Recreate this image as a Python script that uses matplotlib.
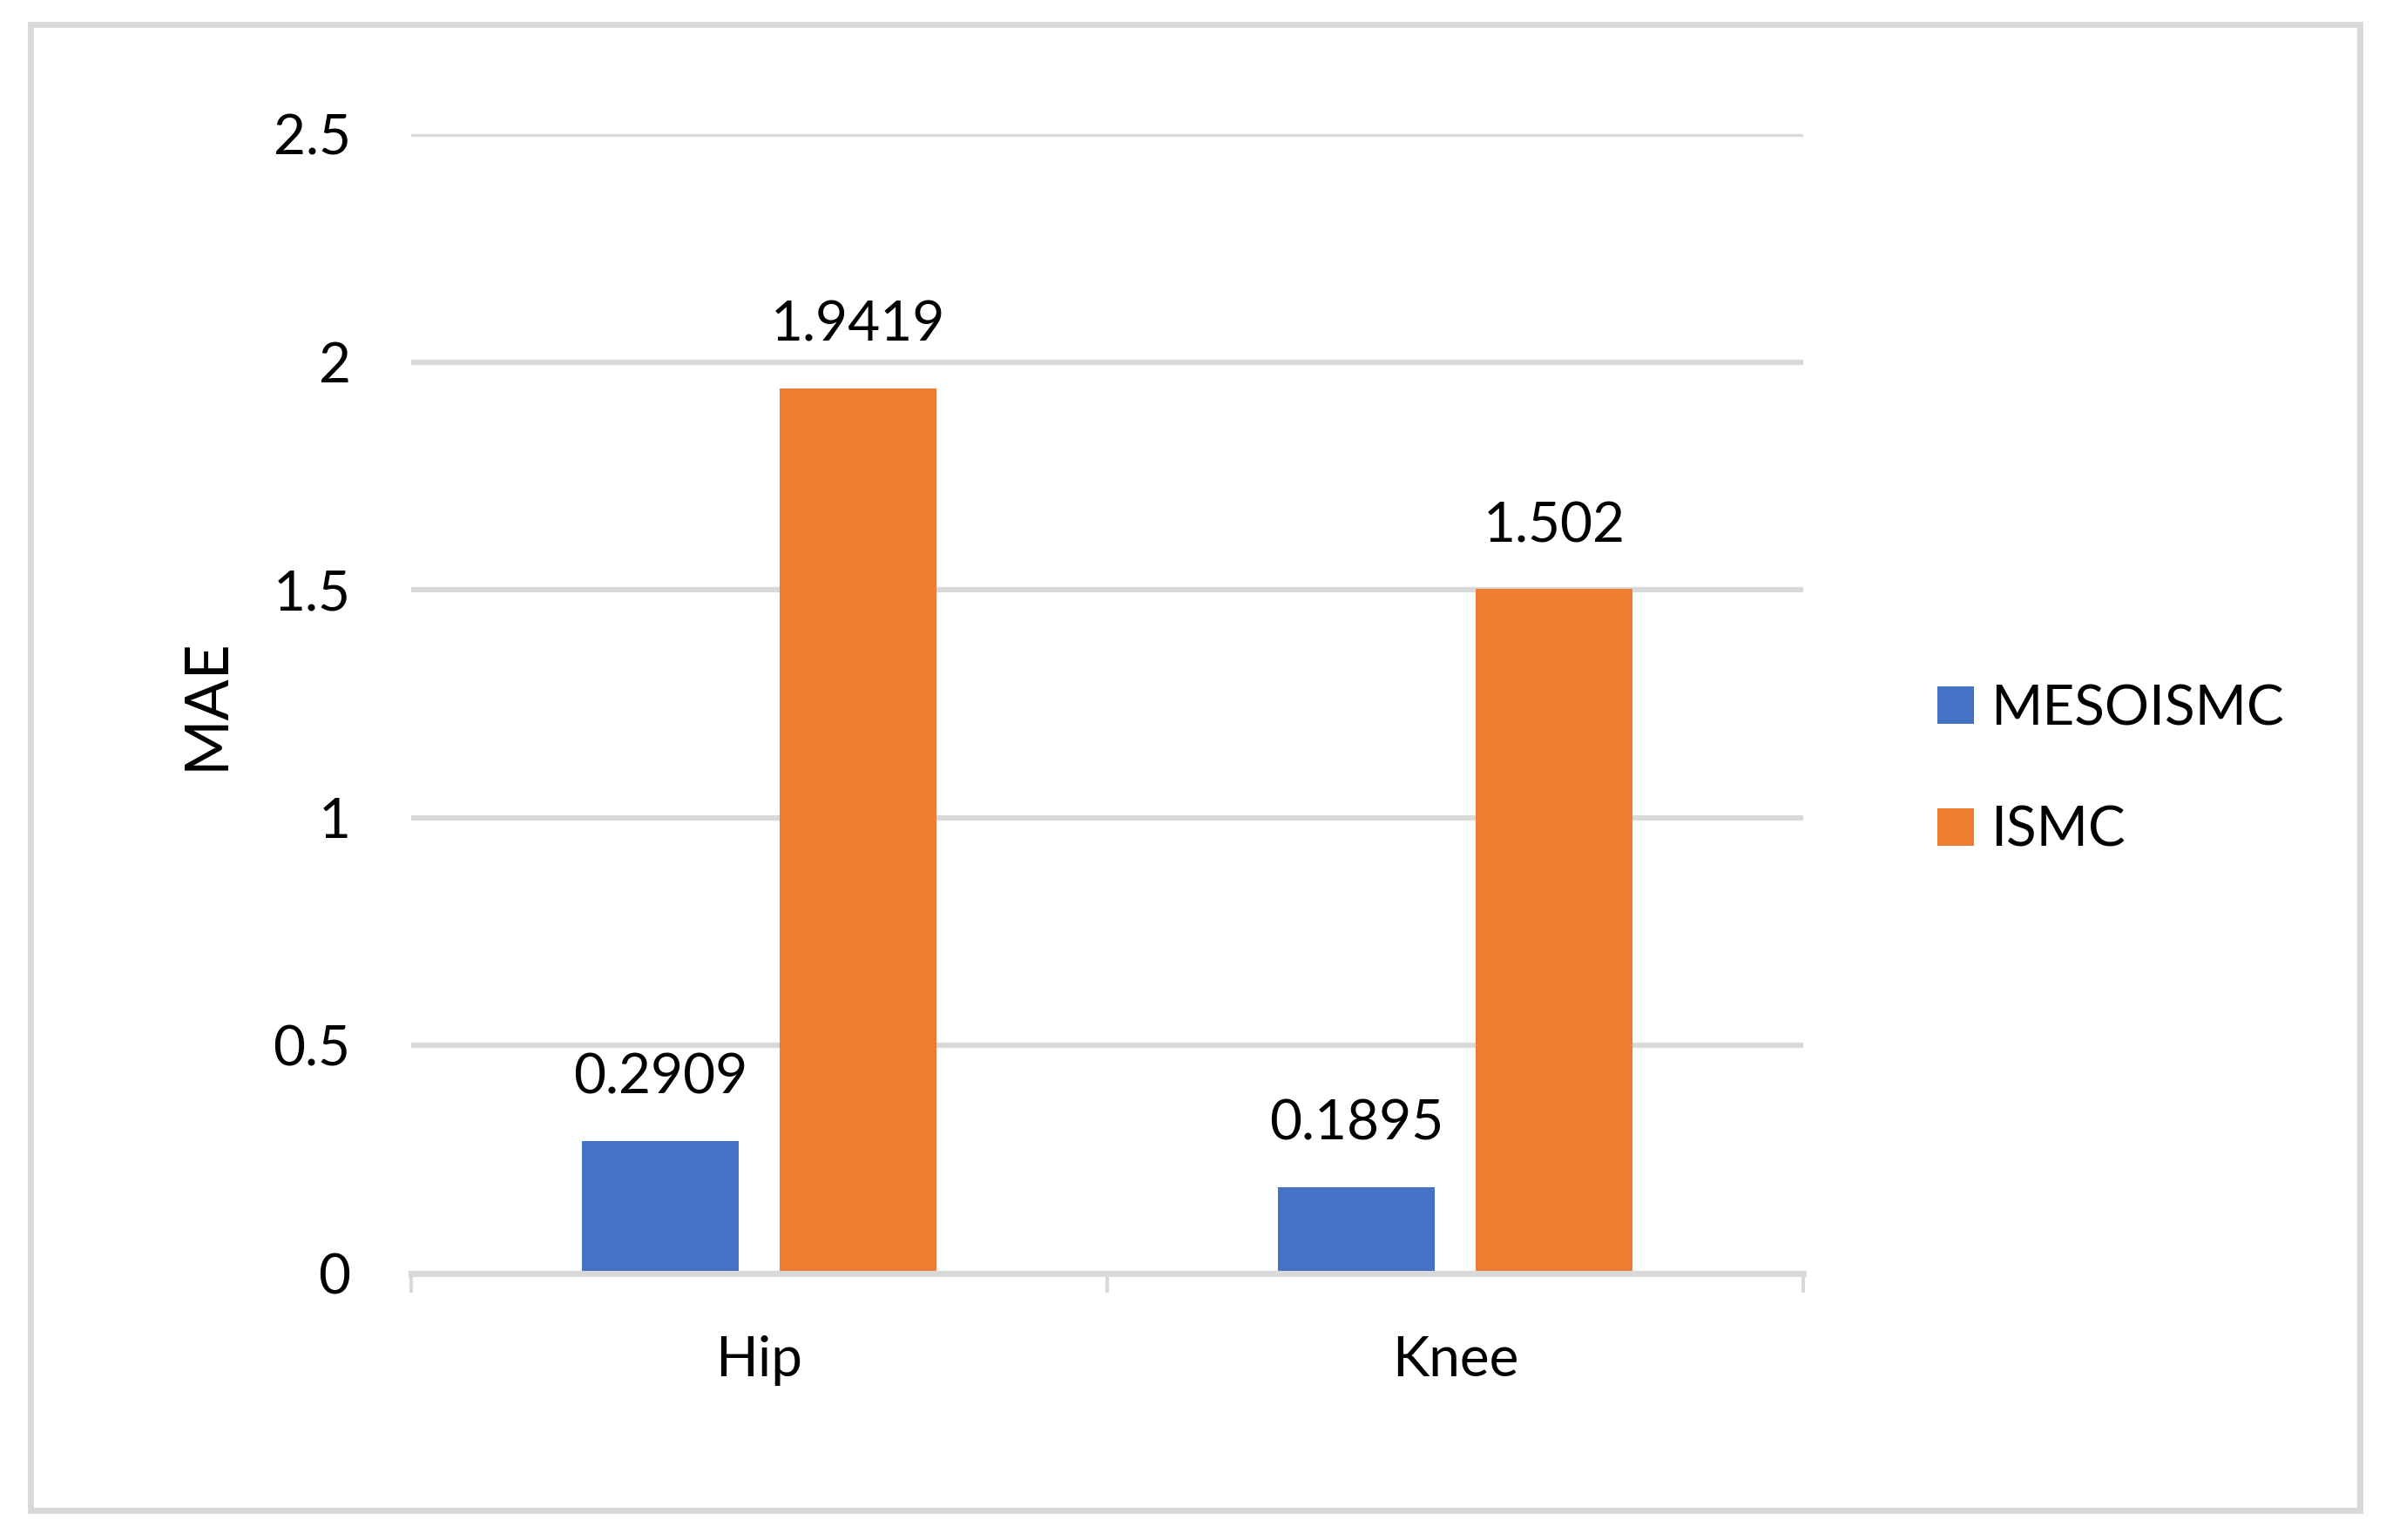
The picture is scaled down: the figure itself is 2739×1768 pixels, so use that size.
import matplotlib
matplotlib.use("Agg")
import matplotlib.pyplot as plt
from matplotlib.patches import Rectangle
import numpy as np

categories = ["Hip", "Knee"]
series_names = ["MESOISMC", "ISMC"]
mesoismc = [0.2909, 0.1895]
ismc = [1.9419, 1.502]
label_texts_meso = ["0.2909", "0.1895"]
label_texts_ismc = ["1.9419", "1.502"]
yticks = [0, 0.5, 1, 1.5, 2, 2.5]
ytick_labels = ["0", "0.5", "1", "1.5", "2", "2.5"]

plt.rcParams['font.family'] = ['Lato', 'DejaVu Sans']

W, H = 2739, 1768
dpi = 100
fig = plt.figure(figsize=(W / dpi, H / dpi), dpi=dpi)
fig.patch.set_facecolor("white")

ax = fig.add_axes([472 / W, 1 - 1462 / H, (2070 - 472) / W, (1462 - 154) / H])

grey = "#D9D9D9"
blue = "#4472C4"
orange = "#ED7D31"
fs = 46

x = np.arange(len(categories))
bw = 0.225
off = 0.142
b1 = ax.bar(x - off, mesoismc, bw, color=blue, label=series_names[0], zorder=3)
b2 = ax.bar(x + off, ismc, bw, color=orange, label=series_names[1], zorder=3)
ax.bar_label(b1, labels=label_texts_meso, padding=31, fontsize=fs)
ax.bar_label(b2, labels=label_texts_ismc, padding=31, fontsize=fs)

ax.set_xlim(-0.5, 1.5)
ax.set_ylim(0, 2.5)
ax.set_yticks(yticks)
ax.set_yticklabels(ytick_labels)
ax.yaxis.grid(True, color=grey, linewidth=4.5, zorder=0)
ax.set_axisbelow(True)

for s in ["top", "right", "left"]:
    ax.spines[s].set_visible(False)
ax.spines["bottom"].set_color(grey)
ax.spines["bottom"].set_linewidth(5)
ax.spines["bottom"].set_zorder(4)

ax.tick_params(axis="y", length=0, pad=50, labelsize=fs)
# category boundary ticks
ax.set_xticks([-0.5, 0.5, 1.5])
ax.set_xticklabels(["", "", ""])
ax.tick_params(axis="x", which="major", length=16, width=3, color=grey)
ax.set_xticks(x, minor=True)
ax.set_xticklabels(categories, minor=True)
ax.tick_params(axis="x", which="minor", length=0, pad=51, labelsize=fs)

ax.set_ylabel("MAE", fontsize=50, va="center")
ax.yaxis.set_label_coords(-0.147, 0.5)

ax.legend(loc="center left", bbox_to_anchor=(2224 / W, 1 - 884 / H),
          bbox_transform=fig.transFigure, frameon=False, fontsize=fs,
          handlelength=0.66, handleheight=0.66, handletextpad=0.3,
          labelspacing=1.28, borderpad=0, borderaxespad=0)

fig.patches.append(Rectangle((35 / W, 1 - 1734 / H), (2709 - 35) / W, (1734 - 28) / H,
                             transform=fig.transFigure, fill=False,
                             edgecolor=grey, linewidth=5, zorder=10))

fig.savefig("out.png", dpi=dpi)
